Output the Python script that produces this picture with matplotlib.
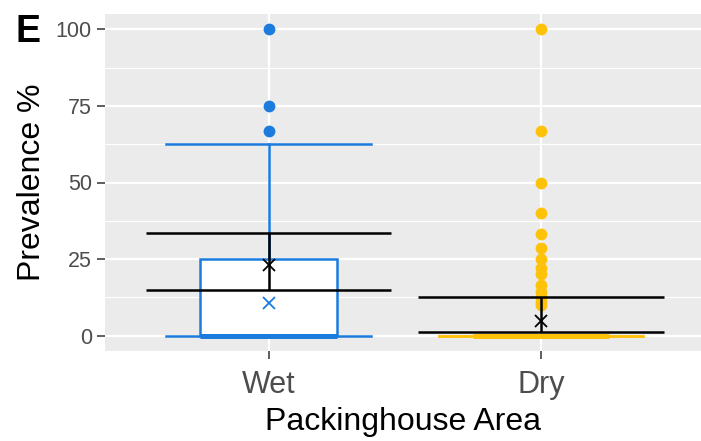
import numpy as np
import matplotlib.pyplot as plt

plt.rcParams['font.family'] = ['Liberation Sans', 'DejaVu Sans']

# data
areas = ["Wet", "Dry"]
colors = ["#1B7CDE", "#FFC20A"]
q1 = [0, 0]
med = [0, 0]
q3 = [25, 0]
whislo = [0, 0]
whishi = [62.5, 0]
outliers = [
    [66.7, 75, 100],
    [100, 66.7, 50, 40, 33.3, 28.6, 25, 22.2, 20, 16.7, 14.3, 12.5, 11.1, 10],
]
box_mark = [10.7, None]
mean_val = [23.0, 4.9]
err_lo = [15.0, 1.3]
err_hi = [33.4, 12.6]

fig = plt.figure(figsize=(7.01, 4.41), dpi=100)
ax = fig.add_axes([105 / 701, 1 - 351 / 441, 1 - 105 / 701, (351 - 14) / 441])
ax.set_facecolor("#EBEBEB")

pos = np.arange(1, len(areas) + 1)

# boxes, one per area so each gets its own colour
for i in range(len(areas)):
    st = [dict(q1=q1[i], med=med[i], q3=q3[i], whislo=whislo[i],
               whishi=whishi[i], fliers=[])]
    c = colors[i]
    ax.bxp(st, positions=[pos[i]], widths=0.5, capwidths=0.75,
           patch_artist=True, showfliers=False,
           boxprops=dict(facecolor="white", edgecolor=c, linewidth=1.8),
           medianprops=dict(color=c, linewidth=3.6),
           whiskerprops=dict(color=c, linewidth=1.8),
           capprops=dict(color=c, linewidth=1.8), zorder=3)
    ax.plot(np.full(len(outliers[i]), pos[i]), outliers[i], "o", color=c,
            markersize=8.5, markeredgewidth=0, zorder=4)
    if box_mark[i] is not None:
        ax.plot(pos[i], box_mark[i], "x", color=c, markersize=8,
                markeredgewidth=1.3, zorder=4)

# mean with error bars
ax.errorbar(pos, mean_val,
            yerr=[np.array(mean_val) - err_lo, np.array(err_hi) - mean_val],
            fmt="none", ecolor="black", elinewidth=1.8, capsize=0, zorder=5)
ax.hlines(err_lo, pos - 0.45, pos + 0.45, color="black", linewidth=1.8, zorder=5)
ax.hlines(err_hi, pos - 0.45, pos + 0.45, color="black", linewidth=1.8, zorder=5)
ax.plot(pos, mean_val, "x", color="black", markersize=8, markeredgewidth=1.3, zorder=6)

ax.set_xlim(0.4, 2.587)
ax.set_ylim(-5, 105)
ax.set_xticks(pos)
ax.set_xticklabels(areas)
ax.set_yticks([0, 25, 50, 75, 100])
ax.set_yticks([12.5, 37.5, 62.5, 87.5], minor=True)
ax.grid(which="major", color="white", linewidth=1.6, zorder=0)
ax.grid(which="minor", axis="y", color="white", linewidth=0.8, zorder=0)
ax.set_axisbelow(True)
for s in ax.spines.values():
    s.set_visible(False)

ax.tick_params(axis="y", which="major", labelsize=15.5, labelcolor="#4D4D4D",
               color="#333333", length=5.5, width=1.1, pad=4)
ax.tick_params(axis="x", which="major", labelsize=22, labelcolor="#4D4D4D",
               color="#333333", length=5.5, width=1.1, pad=8)
ax.tick_params(which="minor", length=0)

ax.set_xlabel("Packinghouse Area", fontsize=23, labelpad=5)
ax.set_ylabel("Prevalence %", fontsize=23, labelpad=6)

fig.text(15 / 701, 1 - 42 / 441, "E", fontsize=27, fontweight="bold",
         ha="left", va="baseline")

fig.savefig("out.png", dpi=100)
